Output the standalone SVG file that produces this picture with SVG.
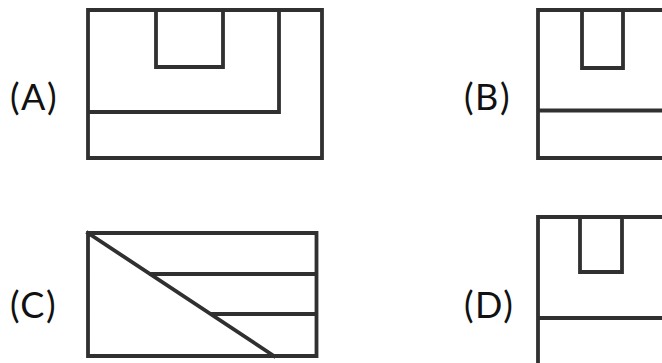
<svg xmlns="http://www.w3.org/2000/svg" width="662" height="363" viewBox="0 0 662 363">
<style>
.l{fill:none;stroke:#303030;stroke-width:3.800;stroke-linecap:square;stroke-linejoin:miter}
.t{font-family:"Lato","Open Sans",sans-serif;font-size:36px;letter-spacing:1.500px;fill:#111}
</style>
<rect width="662" height="363" fill="#fff"/>
<g id="A">
<text class="t" x="10" y="110">(A)</text>
<path class="l" d="M88 10H322V158H88ZM156 10V67H223V10M279 10V112H88"/>
</g>
<g id="B">
<text class="t" x="464" y="110">(B)</text>
<path class="l" d="M664 10H538V158H664M582 10V68H623V10M538 110.500H664"/>
</g>
<g id="C">
<text class="t" x="10" y="318">(C)</text>
<path class="l" d="M88 233H316.500V356H88ZM88 233L274 356M151 274H316.500M212 314H316.500"/>
</g>
<g id="D">
<text class="t" x="464" y="318">(D)</text>
<path class="l" d="M664 217H538V365M580 217V272H622V217M538 318H664"/>
</g>
</svg>
